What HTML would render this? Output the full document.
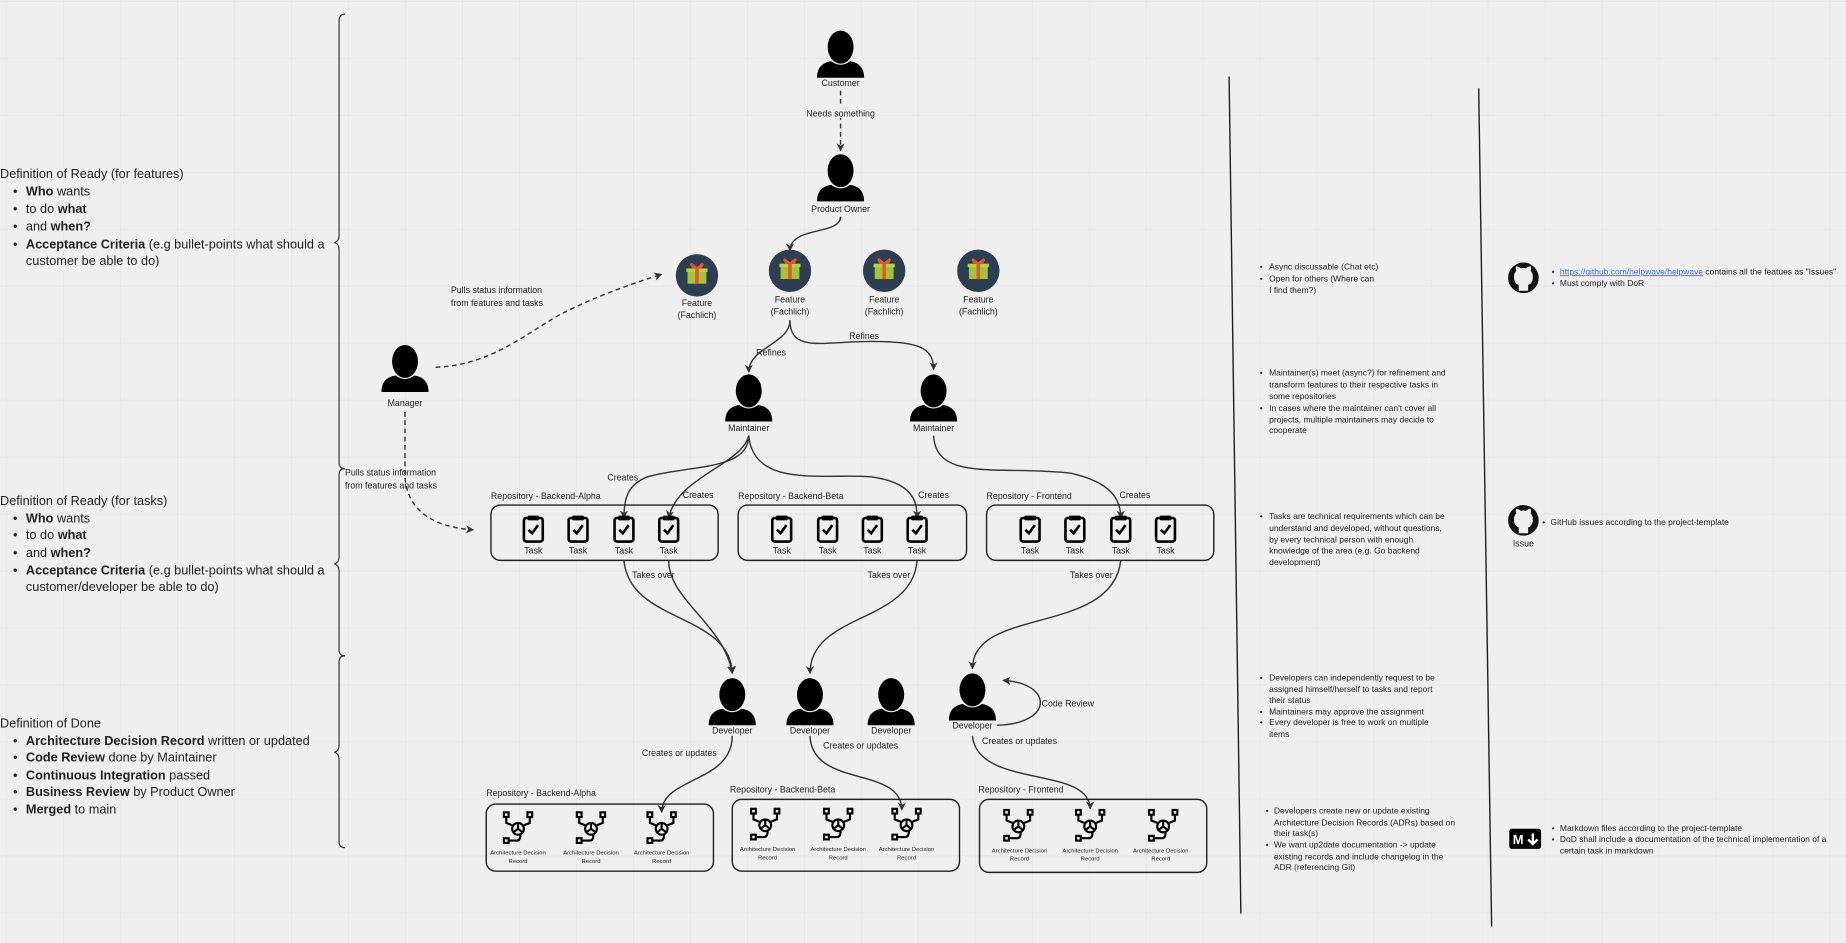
<!DOCTYPE html>
<html><head><meta charset="utf-8"><style>
html,body{margin:0;padding:0;background:#efefef;}
svg{display:block}
text{font-family:"Liberation Sans",sans-serif;fill:#222}
</style></head><body>
<svg width="1846" height="943" viewBox="0 0 1568 801" xmlns="http://www.w3.org/2000/svg">
<defs>
<pattern id="grid" x="5.3" y="0.8" width="48.4" height="48.4" patternUnits="userSpaceOnUse">
<path d="M0 0V48.4M0 0H48.4" stroke="#e4e4e4" stroke-width="1" fill="none"/>
</pattern>
<marker id="ah" viewBox="0 0 10 10" refX="9" refY="5" markerWidth="7" markerHeight="7" orient="auto-start-reverse" markerUnits="userSpaceOnUse">
<path d="M0,0 L10,5 L0,10 L3,5Z" fill="#333"/>
</marker>
<g id="person">
<ellipse cx="0" cy="0" rx="11" ry="14" fill="#000"/>
<path d="M-20,26 C-20,17 -15,13 -8,12 Q0,18 8,12 C15,13 20,17 20,26 Z" fill="#000"/>
</g>
<g id="task">
<rect x="-8" y="-10" width="16" height="20" rx="2" fill="none" stroke="#000" stroke-width="2.2"/>
<rect x="-5" y="-12" width="10" height="4" rx="1" fill="#000"/>
<path d="M-4,0 L-1,3 L4,-4" fill="none" stroke="#000" stroke-width="2.2"/>
</g>
<g id="adr" fill="none" stroke="#000" stroke-width="1.8">
<circle cx="0" cy="0" r="5"/>
<path d="M0,-5 V0 L4,3 M0,0 L-4,3"/>
<rect x="-12" y="-14" width="4" height="4"/>
<rect x="8" y="-14" width="4" height="4"/>
<rect x="-12" y="8" width="4" height="4"/>
<path d="M-10,-10 V-5 L-5,-3 M10,-10 V-5 L5,-3 M-8,10 H-1 Q2,10 2,5"/>
</g>
<g id="feat">
<circle cx="0" cy="0" r="18" fill="#2c3e50"/>
<rect x="-8" y="-5" width="16" height="12" fill="#a4c339"/>
<rect x="-9" y="-6" width="18" height="3" fill="#b3d142"/>
<rect x="-1.5" y="-6" width="3" height="13" fill="#e4572e"/>
<path d="M0,-6 L-5,-10 L-3,-6 M0,-6 L5,-10 L3,-6" stroke="#e4572e" stroke-width="2" fill="none"/>
</g>
<g id="gh">
<circle cx="0" cy="0" r="13" fill="#111"/>
<path d="M-4,11 V6 Q-8,5 -8,-1 Q-8,-4 -6,-6 Q-7,-8 -6,-10 Q-3,-9 -2,-8 Q0,-9 2,-8 Q3,-9 6,-10 Q7,-8 6,-6 Q8,-4 8,-1 Q8,5 4,6 V11 Z" fill="#efefef"/>
</g>
</defs>
<rect width="1568" height="801" fill="#efefef"/>
<rect width="1568" height="801" fill="url(#grid)"/>

<g fill="none" stroke="#333" stroke-width="1">
<path d="M293,12 Q288,12 288,18 V200 Q288,205 284,206 Q288,207 288,212 V393 Q288,398 293,398"/>
<path d="M293,398 Q288,398 288,403 V473 Q288,478 284,479 Q288,480 288,485 V552 Q288,557 293,557"/>
<path d="M293,557 Q288,557 288,562 V633 Q288,638 284,639 Q288,640 288,645 V715 Q288,720 293,720"/>
</g>

<g font-size="10.8">
<text x="0" y="151">Definition of Ready (for features)</text>
<text x="11" y="166">•</text><text x="22" y="166"><tspan font-weight="bold">Who</tspan> wants</text>
<text x="11" y="181">•</text><text x="22" y="181">to do <tspan font-weight="bold">what</tspan></text>
<text x="11" y="196">•</text><text x="22" y="196">and <tspan font-weight="bold">when?</tspan></text>
<text x="11" y="211">•</text><text x="22" y="211"><tspan font-weight="bold">Acceptance Criteria</tspan> (e.g bullet-points what should a</text>
<text x="22" y="225">customer be able to do)</text>

<text x="0" y="429">Definition of Ready (for tasks)</text>
<text x="11" y="444">•</text><text x="22" y="444"><tspan font-weight="bold">Who</tspan> wants</text>
<text x="11" y="458">•</text><text x="22" y="458">to do <tspan font-weight="bold">what</tspan></text>
<text x="11" y="473">•</text><text x="22" y="473">and <tspan font-weight="bold">when?</tspan></text>
<text x="11" y="488">•</text><text x="22" y="488"><tspan font-weight="bold">Acceptance Criteria</tspan> (e.g bullet-points what should a</text>
<text x="22" y="502">customer/developer be able to do)</text>

<text x="0" y="618">Definition of Done</text>
<text x="11" y="633">•</text><text x="22" y="633"><tspan font-weight="bold">Architecture Decision Record</tspan> written or updated</text>
<text x="11" y="647">•</text><text x="22" y="647"><tspan font-weight="bold">Code Review</tspan> done by Maintainer</text>
<text x="11" y="662">•</text><text x="22" y="662"><tspan font-weight="bold">Continuous Integration</tspan> passed</text>
<text x="11" y="676">•</text><text x="22" y="676"><tspan font-weight="bold">Business Review</tspan> by Product Owner</text>
<text x="11" y="691">•</text><text x="22" y="691"><tspan font-weight="bold">Merged</tspan> to main</text>
</g>

<g fill="none" stroke="#333" stroke-width="1.2">
<path d="M714,77 V128" stroke-dasharray="4,3" marker-end="url(#ah)"/>
<path d="M714,184 C714,200 671,192 671,213" marker-end="url(#ah)"/>
<path d="M671,272 C671,292 636,295 636,316" marker-end="url(#ah)"/>
<path d="M671,272 C671,300 700,290 740,290 C780,290 793,295 793,314" marker-end="url(#ah)"/>
<path d="M370,312 C420,310 450,280 480,265 C510,250 540,240 562,233" stroke-dasharray="4,3" marker-end="url(#ah)"/>
<path d="M344,350 V405 C346,435 370,448 402,450" stroke-dasharray="4,3" marker-end="url(#ah)"/>
<path d="M636,370 C636,400 585,395 550,405 C532,412 530,425 530,440" marker-end="url(#ah)"/>
<path d="M636,370 C630,395 575,405 568,440" marker-end="url(#ah)"/>
<path d="M636,370 C640,415 700,402 740,405 C775,410 779,425 779,440" marker-end="url(#ah)"/>
<path d="M793,370 C795,410 850,395 910,402 C945,410 952,425 952,440" marker-end="url(#ah)"/>
<path d="M530,476 C535,530 620,520 622,572" marker-end="url(#ah)"/>
<path d="M568,476 C568,510 615,530 622,572" marker-end="url(#ah)"/>
<path d="M779,476 C775,530 688,520 688,572" marker-end="url(#ah)"/>
<path d="M952,476 C945,540 826,515 826,568" marker-end="url(#ah)"/>
<path d="M847,616 C895,615 895,580 852,578" marker-end="url(#ah)"/>
<path d="M622,625 C622,665 562,660 562,690" marker-end="url(#ah)"/>
<path d="M688,625 C690,670 766,650 766,688" marker-end="url(#ah)"/>
<path d="M826,625 C830,670 926,650 926,687" marker-end="url(#ah)"/>
</g>

<g font-size="7.5" text-anchor="middle">
<rect x="684" y="90" width="60" height="10" fill="#efefef"/>
<text x="714" y="99">Needs something</text>
<text x="655" y="302">Refines</text>
<text x="734" y="288">Refines</text>
<text x="529" y="408">Creates</text>
<text x="593" y="423">Creates</text>
<text x="793" y="423">Creates</text>
<text x="964" y="423">Creates</text>
<text x="555" y="491">Takes over</text>
<text x="755" y="491">Takes over</text>
<text x="927" y="491">Takes over</text>
<text x="907" y="600">Code Review</text>
<text x="577" y="642">Creates or updates</text>
<text x="731" y="636">Creates or updates</text>
<text x="866" y="632">Creates or updates</text>
<g text-anchor="start">
<text x="383" y="249">Pulls status information</text>
<text x="383" y="260">from features and tasks</text>
<text x="293" y="404">Pulls status information</text>
<text x="293" y="415">from features and tasks</text>
</g>
</g>

<use href="#person" x="714" y="40"/>
<use href="#person" x="714" y="145"/>
<use href="#person" x="344" y="307"/>
<use href="#person" x="636" y="332"/>
<use href="#person" x="793" y="332"/>
<use href="#person" x="622" y="590"/>
<use href="#person" x="688" y="590"/>
<use href="#person" x="757" y="590"/>
<use href="#person" x="826" y="586"/>
<g font-size="7.5" text-anchor="middle">
<text x="714" y="73">Customer</text>
<text x="714" y="180">Product Owner</text>
<text x="344" y="345">Manager</text>
<text x="636" y="366">Maintainer</text>
<text x="793" y="366">Maintainer</text>
<text x="622" y="623">Developer</text>
<text x="688" y="623">Developer</text>
<text x="757" y="623">Developer</text>
<text x="826" y="619">Developer</text>
</g>

<use href="#feat" x="592" y="234"/>
<use href="#feat" x="671" y="230"/>
<use href="#feat" x="751" y="230"/>
<use href="#feat" x="831" y="230"/>
<g font-size="7.5" text-anchor="middle">
<text x="592" y="260">Feature</text><text x="592" y="270">(Fachlich)</text>
<text x="671" y="257">Feature</text><text x="671" y="267">(Fachlich)</text>
<text x="751" y="257">Feature</text><text x="751" y="267">(Fachlich)</text>
<text x="831" y="257">Feature</text><text x="831" y="267">(Fachlich)</text>
</g>

<g fill="none" stroke="#222" stroke-width="1.2">
<rect x="417" y="429" width="193" height="47" rx="8"/>
<rect x="627" y="429" width="194" height="47" rx="8"/>
<rect x="838" y="429" width="193" height="47" rx="8"/>
<rect x="413" y="683" width="193" height="57" rx="8"/>
<rect x="622" y="679" width="193" height="61" rx="8"/>
<rect x="832" y="679" width="193" height="62" rx="8"/>
</g>
<g font-size="7.5">
<text x="417" y="424">Repository - Backend-Alpha</text>
<text x="627" y="424">Repository - Backend-Beta</text>
<text x="838" y="424">Repository - Frontend</text>
<text x="413" y="676">Repository - Backend-Alpha</text>
<text x="620" y="673">Repository - Backend-Beta</text>
<text x="831" y="673">Repository - Frontend</text>
</g>
<g>
<use href="#task" x="453" y="450"/><use href="#task" x="491" y="450"/><use href="#task" x="530" y="450"/><use href="#task" x="568" y="450"/>
<use href="#task" x="664" y="450"/><use href="#task" x="703" y="450"/><use href="#task" x="741" y="450"/><use href="#task" x="779" y="450"/>
<use href="#task" x="875" y="450"/><use href="#task" x="913" y="450"/><use href="#task" x="952" y="450"/><use href="#task" x="990" y="450"/>
</g>
<g font-size="7.5" text-anchor="middle">
<text x="453" y="470">Task</text><text x="491" y="470">Task</text><text x="530" y="470">Task</text><text x="568" y="470">Task</text>
<text x="664" y="470">Task</text><text x="703" y="470">Task</text><text x="741" y="470">Task</text><text x="779" y="470">Task</text>
<text x="875" y="470">Task</text><text x="913" y="470">Task</text><text x="952" y="470">Task</text><text x="990" y="470">Task</text>
</g>

<g>
<use href="#adr" x="440" y="704"/><use href="#adr" x="502" y="704"/><use href="#adr" x="562" y="704"/>
<use href="#adr" x="650" y="701"/><use href="#adr" x="712" y="701"/><use href="#adr" x="770" y="701"/>
<use href="#adr" x="865" y="702"/><use href="#adr" x="926" y="702"/><use href="#adr" x="988" y="702"/>
</g>
<g font-size="5" text-anchor="middle" fill="#333">
<text x="440" y="726">Architecture Decision</text><text x="440" y="733">Record</text>
<text x="502" y="726">Architecture Decision</text><text x="502" y="733">Record</text>
<text x="562" y="726">Architecture Decision</text><text x="562" y="733">Record</text>
<text x="652" y="723">Architecture Decision</text><text x="652" y="730">Record</text>
<text x="712" y="723">Architecture Decision</text><text x="712" y="730">Record</text>
<text x="770" y="723">Architecture Decision</text><text x="770" y="730">Record</text>
<text x="866" y="724">Architecture Decision</text><text x="866" y="731">Record</text>
<text x="926" y="724">Architecture Decision</text><text x="926" y="731">Record</text>
<text x="986" y="724">Architecture Decision</text><text x="986" y="731">Record</text>
</g>

<path d="M1044,65 L1054,776" stroke="#222" stroke-width="1.2"/>
<path d="M1256,75 L1267,787" stroke="#222" stroke-width="1.2"/>

<g font-size="7.2" fill="#333">
<text x="1070" y="229">•</text><text x="1078" y="229">Async discussable (Chat etc)</text>
<text x="1070" y="239">•</text><text x="1078" y="239">Open for others (Where can</text>
<text x="1078" y="249">I find them?)</text>

<text x="1070" y="319">•</text><text x="1078" y="319">Maintainer(s) meet (async?) for refinement and</text>
<text x="1078" y="329">transform features to their respective tasks in</text>
<text x="1078" y="339">some repositories</text>
<text x="1070" y="349">•</text><text x="1078" y="349">In cases where the maintainer can't cover all</text>
<text x="1078" y="359">projects, multiple maintainers may decide to</text>
<text x="1078" y="368">cooperate</text>

<text x="1070" y="441">•</text><text x="1078" y="441">Tasks are technical requirements which can be</text>
<text x="1078" y="451">understand and developed, without questions,</text>
<text x="1078" y="461">by every technical person with enough</text>
<text x="1078" y="470">knowledge of the area (e.g. Go backend</text>
<text x="1078" y="480">development)</text>

<text x="1070" y="578">•</text><text x="1078" y="578">Developers can independently request to be</text>
<text x="1078" y="588">assigned himself/herself to tasks and report</text>
<text x="1078" y="597">their status</text>
<text x="1070" y="607">•</text><text x="1078" y="607">Maintainers may approve the assignment</text>
<text x="1070" y="616">•</text><text x="1078" y="616">Every developer is free to work on multiple</text>
<text x="1078" y="626">items</text>

<text x="1075" y="691">•</text><text x="1082" y="691">Developers create new or update existing</text>
<text x="1082" y="701">Architecture Decision Records (ADRs) based on</text>
<text x="1082" y="710">their task(s)</text>
<text x="1075" y="720">•</text><text x="1082" y="720">We want up2date documentation -&gt; update</text>
<text x="1082" y="730">existing records and include changelog in the</text>
<text x="1082" y="739">ADR (referencing Git)</text>

<text x="1318" y="233">•</text><text x="1325" y="233"><tspan fill="#3b6fe0" text-decoration="underline">https://github.com/helpwave/helpwave</tspan> contains all the featues as "Issues"</text>
<text x="1318" y="243">•</text><text x="1325" y="243">Must comply with DoR</text>

<text x="1310" y="446">•</text><text x="1317" y="446">GitHub issues according to the project-template</text>

<text x="1318" y="706">•</text><text x="1325" y="706">Markdown files according to the project-template</text>
<text x="1318" y="715">•</text><text x="1325" y="715">DoD shall include a documentation of the technical implementation of a</text>
<text x="1325" y="725">certain task in markdown</text>
</g>
<use href="#gh" x="1294" y="236"/>
<use href="#gh" x="1294" y="442"/>
<text x="1294" y="464" font-size="7.5" text-anchor="middle">Issue</text>
<rect x="1282" y="704" width="27" height="17" rx="2" fill="#000"/>
<text x="1285" y="717" font-size="11" font-weight="bold" style="fill:#fff">M</text>
<path d="M1302,708 V716 M1298,713 L1302,717 L1306,713" stroke="#fff" stroke-width="2" fill="none"/>
</svg>
</body></html>
